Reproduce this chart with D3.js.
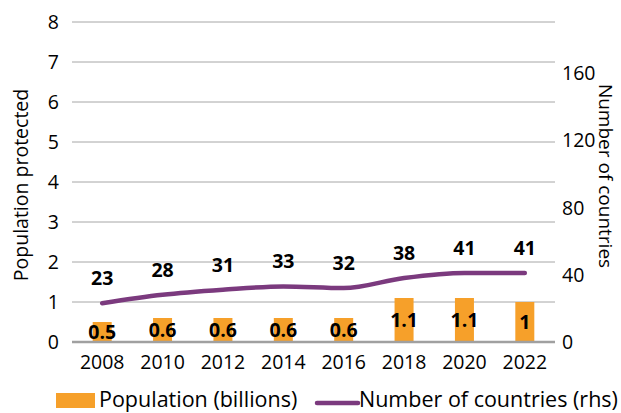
<!DOCTYPE html>
<html>
<head>
<meta charset="utf-8">
<script src="https://cdn.jsdelivr.net/npm/d3@7"></script>
<style>
  html, body { margin: 0; padding: 0; background: #fff; }
  svg { display: block; }
  text { font-family: "Open Sans", "Noto Sans", sans-serif; fill: #000; }
</style>
</head>
<body>
<svg id="chart" width="621" height="413"></svg>
<script>
const years = ["2008", "2010", "2012", "2014", "2016", "2018", "2020", "2022"];
const population = [0.5, 0.6, 0.6, 0.6, 0.6, 1.1, 1.1, 1];
const countries = [23, 28, 31, 33, 32, 38, 41, 41];
const leftTicks = [0, 1, 2, 3, 4, 5, 6, 7, 8];
const rightTicks = [0, 40, 80, 120, 160];

(function () {
const svg = d3.select("#chart");
const pL = 72, pR = 555, pT = 22, pB = 342;
const tickFs = "19.5px";

const x = d3.scaleBand().domain(years).range([pL, pR]);
const yL = d3.scaleLinear().domain([0, 8]).range([pB, pT]);
const yR = d3.scaleLinear().domain([0, 190]).range([pB, pT]);

// gridlines
svg.append("g").selectAll("line").data(leftTicks.filter(d => d > 0)).join("line")
  .attr("x1", pL).attr("x2", pR)
  .attr("y1", d => yL(d)).attr("y2", d => yL(d))
  .attr("stroke", "#a6a6a6").attr("stroke-width", 1);

// bars
const bw = 19;
svg.append("g").selectAll("rect").data(years).join("rect")
  .attr("x", d => x(d) + x.bandwidth() / 2 - bw / 2)
  .attr("y", (d, i) => yL(population[i]))
  .attr("width", bw)
  .attr("height", (d, i) => pB - yL(population[i]))
  .attr("fill", "#f6a02a");

// baseline axis
svg.append("line").attr("x1", pL).attr("x2", pR)
  .attr("y1", pB).attr("y2", pB)
  .attr("stroke", "#a0a0a0").attr("stroke-width", 2.5);

// left axis labels
const axL = d3.axisLeft(yL).tickValues(leftTicks).tickSize(0).tickPadding(0);
const gL = svg.append("g").attr("transform", `translate(59,0)`).call(axL);
gL.select(".domain").remove();
gL.attr("font-family", null).attr("font-size", null);
gL.selectAll("text").style("font-size", tickFs).attr("dy", "0.35em");

// right axis labels
const axR = d3.axisRight(yR).tickValues(rightTicks).tickSize(0).tickPadding(0);
const gR = svg.append("g").attr("transform", `translate(562,0)`).call(axR);
gR.select(".domain").remove();
gR.attr("font-family", null).attr("font-size", null);
gR.selectAll("text").style("font-size", tickFs).attr("dy", "0.35em");

// x axis labels
const axX = d3.axisBottom(x).tickSize(0).tickPadding(0);
const gX = svg.append("g").attr("transform", `translate(0,355)`).call(axX);
gX.select(".domain").remove();
gX.attr("font-family", null).attr("font-size", null);
gX.selectAll("text").style("font-size", tickFs).attr("dy", "0.7em");

// line
const cx = d => x(d) + x.bandwidth() / 2;
const line = d3.line()
  .x((d, i) => cx(years[i]))
  .y(d => yR(d))
  .curve(d3.curveMonotoneX);
svg.append("path").datum(countries)
  .attr("d", line)
  .attr("fill", "none")
  .attr("stroke", "#7b3a7e")
  .attr("stroke-width", 4.5)
  .attr("stroke-linecap", "round");

// bar labels
svg.append("g").selectAll("text").data(years).join("text")
  .attr("x", d => cx(d))
  .attr("y", (d, i) => (yL(population[i]) + pB) / 2)
  .attr("dy", "0.36em")
  .attr("text-anchor", "middle")
  .style("font-size", "19.5px").style("font-weight", "bold")
  .text((d, i) => population[i]);

// line labels
svg.append("g").selectAll("text").data(years).join("text")
  .attr("x", d => cx(d))
  .attr("y", (d, i) => yR(countries[i]) - 18)
  .attr("text-anchor", "middle")
  .style("font-size", "19.5px").style("font-weight", "bold")
  .text((d, i) => countries[i]);

// axis titles
svg.append("text")
  .attr("transform", `translate(28,${(88 + 282) / 2}) rotate(-90)`)
  .attr("text-anchor", "middle")
  .style("font-size", "19.5px")
  .text("Population protected");
svg.append("text")
  .attr("transform", `translate(599,${(80 + 272) / 2}) rotate(90)`)
  .attr("text-anchor", "middle")
  .style("font-size", "19px")
  .text("Number of countries");

// legend
svg.append("rect").attr("x", 56).attr("y", 393).attr("width", 39).attr("height", 15).attr("fill", "#f6a02a");
svg.append("text").attr("x", 99).attr("y", 407).style("font-size", "21.5px").text("Population (billions)");
svg.append("line").attr("x1", 317).attr("x2", 358).attr("y1", 403).attr("y2", 403)
  .attr("stroke", "#7b3a7e").attr("stroke-width", 4.5).attr("stroke-linecap", "round");
svg.append("text").attr("x", 359).attr("y", 407).style("font-size", "21.5px").text("Number of countries (rhs)");
})();
</script>
</body>
</html>
